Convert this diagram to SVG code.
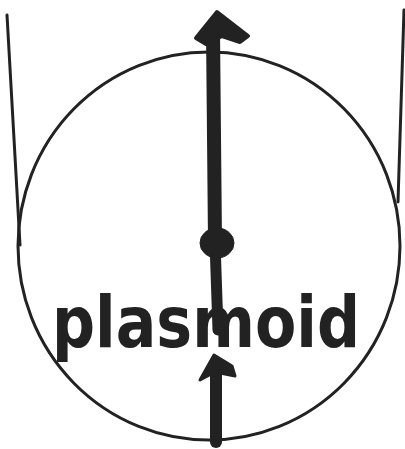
<svg xmlns="http://www.w3.org/2000/svg" width="405" height="449" viewBox="0 0 405 449">
<style>
.thin{fill:none;stroke:#222;stroke-width:3;stroke-linecap:round}
.ink{fill:#222;stroke:#222;stroke-linejoin:round}
.lbl{font-family:"DejaVu Sans","Liberation Sans",Arial,sans-serif;font-weight:bold;font-size:72px;fill:#222}
</style>
<rect width="405" height="449" fill="#fff"/>
<g id="connectors">
<path class="thin" d="M7,15 L20,245"/>
<path class="thin" d="M404,10 L398,202"/>
<path class="thin" d="M215,242 L218,330" style="stroke-width:11"/>
<path class="thin" d="M215,242 L213,30" style="stroke-width:14"/>
<path class="ink" stroke-width="4" d="M217,12 L196,38 L206,44 L222,36 L240,42 L248,36 Z"/>
<path class="thin" d="M216,365 L216,442" style="stroke-width:12"/>
<path class="ink" stroke-width="3" d="M214,355 L200,380 L215,372 L235,376 L232,366 Z"/>
</g>
<g id="plasmoid-circle">
<ellipse class="thin" cx="209" cy="246" rx="191" ry="194"/>
</g>
<g id="core">
<ellipse class="ink" cx="217" cy="243" rx="17" ry="15"/>
</g>
<g id="label">
<text class="lbl" x="52" y="347" textLength="308" lengthAdjust="spacingAndGlyphs">plasmoid</text>
</g>
</svg>
